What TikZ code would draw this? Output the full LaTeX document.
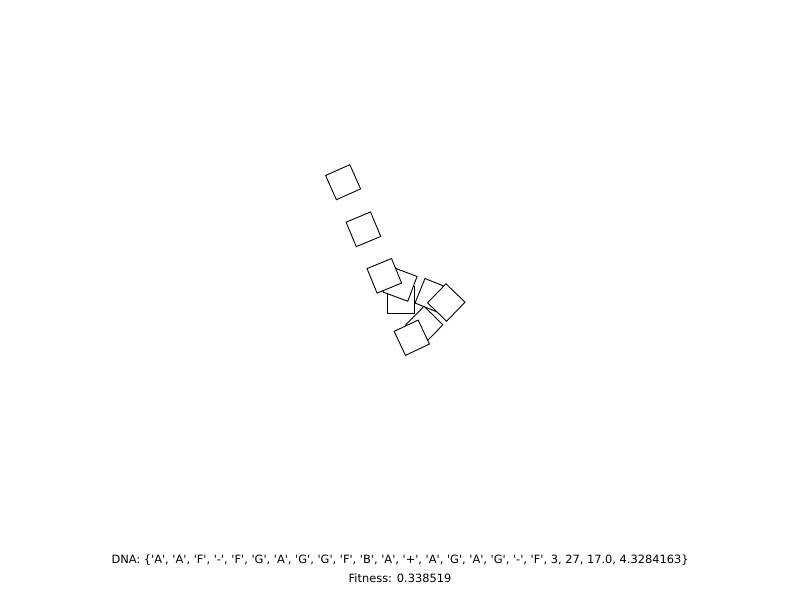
\documentclass[tikz,border=0pt]{standalone}
\usepackage{fontspec}
\newfontfamily\capfont{DejaVu Sans}

\begin{document}
\begin{tikzpicture}[
  x=1pt,y=-1pt,
  cell/.style={draw,fill=white,line width=0.9pt,minimum size=26.5pt,inner sep=0pt},
  caption/.style={anchor=base,inner sep=0pt,font=\capfont\fontsize{11.4}{13}\selectfont}
]
  \useasboundingbox[fill=white] (0,0) rectangle (800,600);
  % squares, back to front
  \node[cell,rotate=24]    (s1) at (343.1,182.2) {};
  \node[cell,rotate=22.6]  (s2) at (363.4,229.3) {};
  \node[cell,rotate=-22]   (s6) at (432.3,295.7) {};
  \node[cell,rotate=-44]   (s7) at (446.3,302.5) {};
  \node[cell]              (s5) at (400.8,299.8) {};
  \node[cell,rotate=-20.5] (s4) at (400.0,284.2) {};
  \node[cell,rotate=22.3]  (s3) at (384.3,275.8) {};
  \node[cell,rotate=-44.5] (s8) at (424.2,325.0) {};
  \node[cell,rotate=25.2]  (s9) at (411.8,337.7) {};
  % caption
  \node[caption] (dna) at (400,563.5)
    {DNA: \{'A', 'A', 'F', '-', 'F', 'G', 'A', 'G', 'G', 'F', 'B', 'A', '+', 'A', 'G', 'A', 'G', '-', 'F', 3, 27, 17.0, 4.3284163\}};
  \node[caption] (fit) at (400,582.5) {Fitness: 0.338519};
\end{tikzpicture}
\end{document}
